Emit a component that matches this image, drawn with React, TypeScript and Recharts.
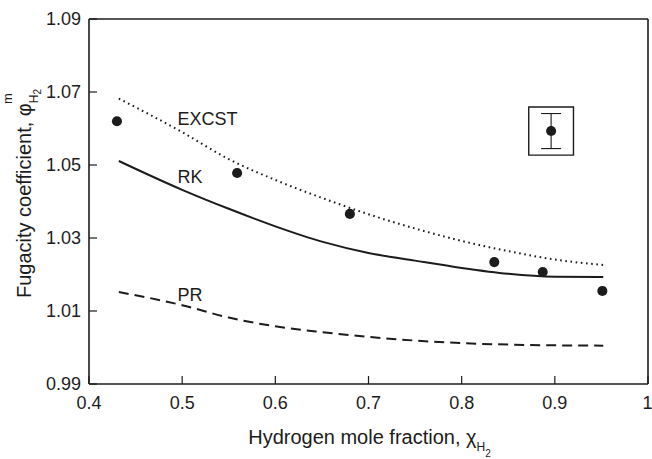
import { ComposedChart, XAxis, YAxis, ZAxis, Line, Scatter, ErrorBar, ReferenceArea } from 'recharts'

const FONT = '"Liberation Sans", Arial, Helvetica, sans-serif'
const INK = '#1c1c1c'

// axis ticks
const xTicks = [0.4, 0.5, 0.6, 0.7, 0.8, 0.9, 1]
const xTicksTop = [0.5, 0.6, 0.7, 0.8, 0.9]
const yTicks = [0.99, 1.01, 1.03, 1.05, 1.07, 1.09]
const yTicksRight = [1.01, 1.03, 1.05, 1.07]

// model curves
const fitX = [0.432, 0.5, 0.55, 0.6, 0.65, 0.7, 0.75, 0.8, 0.85, 0.9, 0.952]
const excstY = [1.0682, 1.059, 1.0516, 1.0459, 1.041, 1.0365, 1.0326, 1.0292, 1.0264, 1.0241, 1.0226]
const rkY = [1.0511, 1.0432, 1.038, 1.0332, 1.029, 1.0259, 1.0238, 1.0218, 1.0202, 1.0194, 1.0193]
const prY = [1.0152, 1.0116, 1.0082, 1.0058, 1.0042, 1.0029, 1.0019, 1.0012, 1.0008, 1.0006, 1.0005]

// experimental points
const expX = [0.43, 0.559, 0.68, 0.835, 0.887, 0.951]
const expY = [1.062, 1.0478, 1.0366, 1.0234, 1.0207, 1.0155]

// error key in the boxed inset
const keyX = [0.896]
const keyY = [1.0593]
const keyErr = [0.0048]
const keyBoxX = [0.872, 0.92]
const keyBoxY = [1.0527, 1.0659]

// curve labels
const curveNames = ['EXCST', 'RK', 'PR']
const curveLabelX = [0.495, 0.495, 0.495]
const curveLabelY = [1.061, 1.0451, 1.0127]

const toPts = (xs: number[], ys: number[]) => xs.map((x, i) => ({ x, y: ys[i] }))
const excstData = toPts(fitX, excstY)
const rkData = toPts(fitX, rkY)
const prData = toPts(fitX, prY)
const expData = toPts(expX, expY)
const keyData = keyX.map((x, i) => ({ x, y: keyY[i], err: keyErr[i] }))
const labelData = curveNames.map((name, i) => ({ name, x: curveLabelX[i], y: curveLabelY[i] }))

const tickStyle = { fill: INK, fontSize: 18, fontFamily: FONT }
const axisLine = { stroke: INK, strokeWidth: 1.6 }
const tickLine = { stroke: INK, strokeWidth: 1.2 }

function XTitle(props: any) {
  const vb = props.viewBox
  return (
    <text x={vb.x + vb.width / 2 + 1} y={444} textAnchor="middle" fill={INK} fontSize={20} fontFamily={FONT}>
      Hydrogen mole fraction, χ
      <tspan fontSize={12} dy={7}>H</tspan>
      <tspan fontSize={10} dy={6}>2</tspan>
    </text>
  )
}

function YTitle(props: any) {
  const vb = props.viewBox
  const x = 31
  const y = vb.y + vb.height / 2 - 8
  return (
    <text
      x={x}
      y={y}
      transform={`rotate(-90 ${x} ${y})`}
      textAnchor="middle"
      fill={INK}
      fontSize={20}
      fontFamily={FONT}
    >
      Fugacity coefficient, φ
      <tspan fontSize={12} dy={7}>H</tspan>
      <tspan fontSize={10} dy={3}>2</tspan>
      <tspan fontSize={13} dx={-15} dy={-29}>m</tspan>
    </text>
  )
}

function CurveLabel(props: any) {
  return (
    <text x={props.cx} y={props.cy} fill={INK} fontSize={18} fontFamily={FONT}>
      {props.payload.name}
    </text>
  )
}

export default function App() {
  return (
    <div style={{ position: 'absolute', left: 0, top: 0, background: '#fff' }}>
      <ComposedChart width={652} height={459} margin={{ top: 0, right: 0, bottom: 0, left: 0 }}>
        <XAxis
          xAxisId="b"
          dataKey="x"
          type="number"
          domain={[0.4, 1]}
          ticks={xTicks}
          allowDataOverflow
          height={75}
          tickSize={-8}
          tickMargin={20}
          axisLine={axisLine}
          tickLine={tickLine}
          tick={tickStyle}
          tickFormatter={(v: number) => (v === 1 ? '1' : v.toFixed(1))}
          label={<XTitle />}
        />
        <XAxis
          xAxisId="t"
          orientation="top"
          dataKey="x"
          type="number"
          domain={[0.4, 1]}
          ticks={xTicksTop}
          height={19}
          tickSize={-8}
          axisLine={axisLine}
          tickLine={tickLine}
          tickFormatter={() => ''}
        />
        <YAxis
          yAxisId="l"
          type="number"
          domain={[0.99, 1.09]}
          ticks={yTicks}
          allowDataOverflow
          width={89}
          tickSize={-8}
          tickMargin={16}
          axisLine={axisLine}
          tickLine={tickLine}
          tick={tickStyle}
          tickFormatter={(v: number) => v.toFixed(2)}
          label={<YTitle />}
        />
        <YAxis
          yAxisId="r"
          orientation="right"
          type="number"
          domain={[0.99, 1.09]}
          ticks={yTicksRight}
          width={4}
          tickSize={-8}
          axisLine={axisLine}
          tickLine={tickLine}
          tickFormatter={() => ''}
        />
        <ZAxis range={[80, 80]} />

        <Line
          xAxisId="b"
          yAxisId="l"
          data={excstData}
          dataKey="y"
          type="monotone"
          stroke={INK}
          strokeWidth={2}
          strokeDasharray="1.6 3.6"
          dot={false}
          isAnimationActive={false}
        />
        <Line
          xAxisId="b"
          yAxisId="l"
          data={rkData}
          dataKey="y"
          type="monotone"
          stroke={INK}
          strokeWidth={2}
          dot={false}
          isAnimationActive={false}
        />
        <Line
          xAxisId="b"
          yAxisId="l"
          data={prData}
          dataKey="y"
          type="monotone"
          stroke={INK}
          strokeWidth={2}
          strokeDasharray="10 6"
          dot={false}
          isAnimationActive={false}
        />

        <Scatter xAxisId="b" yAxisId="l" data={expData} dataKey="y" fill={INK} isAnimationActive={false} />

        <ReferenceArea
          xAxisId="b"
          yAxisId="l"
          x1={keyBoxX[0]}
          x2={keyBoxX[1]}
          y1={keyBoxY[0]}
          y2={keyBoxY[1]}
          fill="none"
          fillOpacity={0}
          stroke={INK}
          strokeWidth={1.4}
        />
        <Scatter xAxisId="b" yAxisId="l" data={keyData} dataKey="y" fill={INK} isAnimationActive={false}>
          <ErrorBar dataKey="err" direction="y" width={10} stroke={INK} strokeWidth={1.1} />
        </Scatter>

        <Scatter
          xAxisId="b"
          yAxisId="l"
          data={labelData}
          dataKey="y"
          shape={<CurveLabel />}
          isAnimationActive={false}
        />
      </ComposedChart>
    </div>
  )
}
